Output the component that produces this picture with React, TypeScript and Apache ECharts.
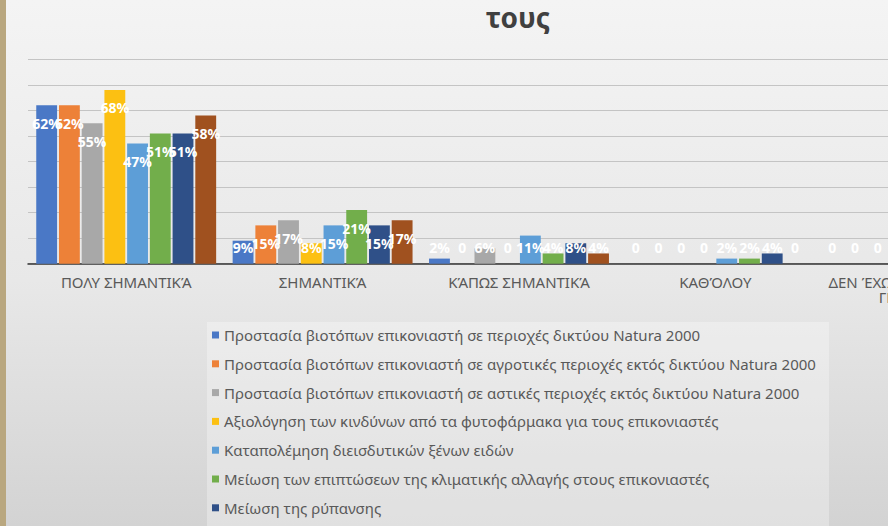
import React, { useEffect, useRef } from "react";
import * as echarts from "echarts";

const categories = [
  "ΠΟΛΥ ΣΗΜΑΝΤΙΚΆ",
  "ΣΗΜΑΝΤΙΚΆ",
  "ΚΆΠΩΣ ΣΗΜΑΝΤΙΚΆ",
  "ΚΑΘΌΛΟΥ",
  "ΔΕΝ ΈΧΩ ΆΠΟΨΗ / ΔΕΝ\nΓΝΩΡΊΖΩ",
];

const seriesNames = [
  "Προστασία βιοτόπων επικονιαστή σε περιοχές δικτύου Natura 2000",
  "Προστασία βιοτόπων επικονιαστή σε αγροτικές περιοχές εκτός δικτύου Natura 2000",
  "Προστασία βιοτόπων επικονιαστή σε αστικές περιοχές εκτός δικτύου Natura 2000",
  "Αξιολόγηση των κινδύνων από τα φυτοφάρμακα για τους επικονιαστές",
  "Καταπολέμηση διεισδυτικών ξένων ειδών",
  "Μείωση των επιπτώσεων της κλιματικής αλλαγής στους επικονιαστές",
  "Μείωση της ρύπανσης",
  "Άλλο",
];

const s1 = [62, 9, 2, 0, 0];
const s2 = [62, 15, 0, 0, 0];
const s3 = [55, 17, 6, 0, 0];
const s4 = [68, 8, 0, 0, 0];
const s5 = [47, 15, 11, 2, 0];
const s6 = [51, 21, 4, 2, 0];
const s7 = [51, 15, 8, 4, 0];
const s8 = [58, 17, 4, 0, 0];
const seriesValues = [s1, s2, s3, s4, s5, s6, s7, s8];

const colors = [
  "#4a78c6",
  "#ed8138",
  "#a8a8a8",
  "#fcc012",
  "#5d9ed7",
  "#72ae4b",
  "#2f5088",
  "#a0511f",
];

const yTicks = { min: 0, max: 80, interval: 10 };

export default function App() {
  const ref = useRef<HTMLDivElement>(null);

  useEffect(() => {
    if (!ref.current) return;
    const chart = echarts.init(ref.current, null, { renderer: "svg" });
    const series = seriesValues.map((vals, i) => ({
      name: seriesNames[i],
      type: "bar",
      barGap: "9%",
      barCategoryGap: "8.4%",
      itemStyle: { color: colors[i] },
      data: vals.map((v) => ({
        value: v,
        label:
          v < 13
            ? { position: "insideBottom", distance: 9 }
            : { position: "insideTop", distance: 11 },
      })),
      label: {
        show: true,
        color: "#ffffff",
        fontFamily: "Noto Sans",
        fontWeight: "bold",
        fontSize: 14,
        formatter: (p: any) => (p.value === 0 ? "0" : p.value + "%"),
      },
    }));

    chart.setOption({
      animation: false,
      backgroundColor: {
        type: "linear",
        x: 0,
        y: 0,
        x2: 0,
        y2: 1,
        colorStops: [
          { offset: 0, color: "#f4f4f4" },
          { offset: 0.5, color: "#e8e8e8" },
          { offset: 1, color: "#d0d0d0" },
        ],
      },
      title: {
        text: "τους",
        left: 518,
        textAlign: "center",
        top: 3,
        padding: 0,
        textStyle: {
          color: "#404040",
          fontFamily: "Noto Sans",
          fontWeight: "bold",
          fontSize: 28,
        },
      },
      graphic: [
        {
          type: "rect",
          left: 0,
          top: 0,
          shape: { width: 6, height: 600 },
          style: { fill: "#b9a77f" },
          silent: true,
        },
        {
          type: "rect",
          left: 207,
          top: 322,
          shape: { width: 622, height: 260 },
          style: { fill: "rgba(255,255,255,0.3)" },
          silent: true,
          z: -1,
        },
      ],
      legend: {
        orient: "vertical",
        left: 207,
        top: 322,
        itemWidth: 7,
        itemHeight: 7,
        itemGap: 12.8,
        icon: "rect",
        textStyle: {
          color: "#595959",
          fontFamily: "Noto Sans",
          fontSize: 15,
          lineHeight: 16,
          padding: [0, 0, 0, 0],
        },
        data: seriesNames,
      },
      grid: { left: 28, right: 30, top: 59.3, bottom: 296.3 },
      xAxis: {
        type: "category",
        data: categories,
        axisTick: { show: false },
        axisLine: { lineStyle: { color: "#333333", width: 1.5 } },
        axisLabel: {
          color: "#595959",
          fontFamily: "Noto Sans",
          fontSize: 15,
          margin: 11,
          interval: 0,
        },
      },
      yAxis: {
        type: "value",
        min: yTicks.min,
        max: yTicks.max,
        interval: yTicks.interval,
        axisLabel: { show: false },
        axisLine: { show: false },
        axisTick: { show: false },
        splitLine: { lineStyle: { color: "#c4c4c4", width: 1.2 } },
      },
      series,
    });
    return () => chart.dispose();
  }, []);

  return (
    <div
      style={{
        position: "fixed",
        left: 0,
        top: 0,
        width: 888,
        height: 526,
        overflow: "hidden",
      }}
    >
      <div ref={ref} style={{ width: 1040, height: 560 }} />
    </div>
  );
}
